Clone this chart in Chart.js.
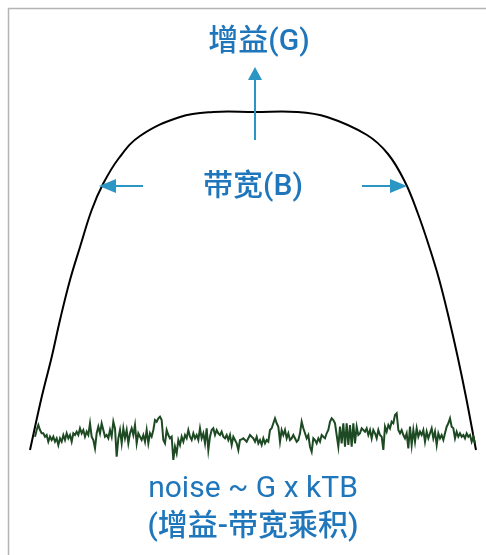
<!DOCTYPE html>
<html><head><meta charset="utf-8">
<script src="https://cdn.jsdelivr.net/npm/chart.js@4/dist/chart.umd.min.js"></script>
<style>html,body{margin:0;padding:0;background:#fff;}#c{display:block;}</style>
</head><body>
<canvas id="c" width="486" height="555"></canvas>
<script>
// Amplifier response curve (frequency, gain in arbitrary units)
const curveFreq = [-1,10.7,20.7,29,39,49,60.7,72,88,109,149,182,224,266,296,336,357,374,386.7,398.3,408.3,418.3,426.7,435,445];
const curveGain = [0,53,93,130,170,203,240,266,292,314,333,338,338,338,333,315,296,268,237,203,170,130,93,53,0];
// Output noise floor, sampled on an even frequency grid
const noiseStart = 4;
const noiseStep = 5/3;
const noiseGain = [
13.3,20,25,20,16.7,16.7,13.3,15,8.3,13.3,10,13.3,8.3,11.7,5,11.7,8.3,15,10,16.7,
11.7,15,8.3,16.7,15,18.3,15,21.7,16.7,20,13.3,18.3,15,26.7,13.3,10,1.7,16.7,23.3,16.7,
26.7,20,13.3,15,11.7,20,13.3,28.3,21.7,-6.7,11.7,20,6.7,21.7,11.7,20,6.7,16.7,21.7,15,
25,6.7,16.7,13.3,10,15,8.3,20,6.7,16.7,13.3,20,30,28.3,31.7,33.3,30,10,6.7,20,
15,11.7,13.3,-10,3.3,-3.3,10,5,13.3,8.3,15,11.7,20,13.3,10,16.7,11.7,15,10,21.7,
11.7,16.7,6.7,21.7,0,13.3,20,21.7,15,20,16.7,15,18.3,13.3,11.7,15,10,15,5,13.3,
10,6.7,0,
10,10.7,11.7,10,8.3,11.7,15,13.3,11.7,8.3,13.3,6.7,10,5,11.7,6.7,10,8.3,20,21.7,
26.7,31.7,26.7,23.3,8.3,20,15,20,11.7,16.7,10,11.7,15,11.7,8.3,10,16.7,28.3,21.7,16.7,
11.7,15,3.3,-1.7,11.7,10,6.7,11.7,8.3,15,13.3,11.7,16.7,20,28.3,31.7,30,26.7,15,3.3,
23.3,6.7,26.7,3.3,26.7,5,25,3.3,26.7,6.7,23.3,15,16.7,21.7,20,18.3,21.7,15,20,11.7,
20,16.7,11.7,20,15,13.3,0,23.3,18.3,25,21.7,28.3,26.7,35,36.7,20,16.7,20,15,11.7,
16.7,1.7,23.3,5,20,8.3,21.7,13.3,18.3,15,20,8.3,18.3,11.7,16.7,21.7,11.7,18.3,5,16.7,
11.7,15,10,16.7,23.3,26.7,31.7,23.3,21.7,11.7,18.3,13.3,16.7,13.3,15,11.7,16.7,13.3,15,8.3,
13.3,6.7
];
// Annotation labels
const labelGain = '增益(G)';
const labelBandwidth = '带宽(B)';
const labelNoise1 = 'noise ~ G x kTB';
const labelNoise2 = '(增益-带宽乘积)';

const curvePts = curveFreq.map((f,i)=>({x:f,y:curveGain[i]}));
const noisePts = noiseGain.map((g,i)=>({x:noiseStart+i*noiseStep,y:g}));

const TEXT_BLUE = '#1f76bb';
const ARROW_BLUE = '#2b95c3';
const FONT = '"Roboto","Noto Sans CJK SC",sans-serif';

const annot = {
  id:'annot',
  beforeDraw(chart){
    const ctx = chart.ctx;
    ctx.save();
    ctx.strokeStyle = '#b4b4b4';
    ctx.lineWidth = 1.5;
    ctx.beginPath();
    ctx.moveTo(8.5, 555); ctx.lineTo(8.5, 8.5); ctx.lineTo(486, 8.5);
    ctx.stroke();
    ctx.restore();
  },
  afterDraw(chart){
    const ctx = chart.ctx, xs = chart.scales.x, ys = chart.scales.y;
    const X = v=>xs.getPixelForValue(v), Y = v=>ys.getPixelForValue(v);
    ctx.save();
    ctx.fillStyle = TEXT_BLUE;
    ctx.textAlign = 'center';
    ctx.textBaseline = 'alphabetic';
    ctx.font = '500 30px ' + FONT;
    ctx.fillText(labelGain, X(228), Y(400));
    ctx.fillText(labelBandwidth, X(222), Y(255));
    ctx.fillText(labelNoise2, X(222), Y(-85));
    ctx.font = '400 30px ' + FONT;
    ctx.fillText(labelNoise1, X(222), Y(-47));
    // arrows
    ctx.strokeStyle = ARROW_BLUE; ctx.fillStyle = ARROW_BLUE; ctx.lineWidth = 2;
    function arrow(x1,y1,x2,y2,len,half){
      const px1=X(x1),py1=Y(y1),px2=X(x2),py2=Y(y2);
      const a=Math.atan2(py2-py1,px2-px1);
      const bx=px2-len*Math.cos(a), by=py2-len*Math.sin(a);
      ctx.beginPath(); ctx.moveTo(px1,py1); ctx.lineTo(bx,by); ctx.stroke();
      ctx.beginPath(); ctx.moveTo(px2,py2);
      ctx.lineTo(bx+half*Math.sin(a), by-half*Math.cos(a));
      ctx.lineTo(bx-half*Math.sin(a), by+half*Math.cos(a));
      ctx.closePath(); ctx.fill();
    }
    arrow(224,310,224,383,13,7);
    arrow(112,264,68,264,17,7);
    arrow(331,264,376,264,17,7);
    ctx.restore();
  }
};

new Chart(document.getElementById('c'), {
  type:'scatter',
  data:{datasets:[
    {data:noisePts, showLine:true, borderColor:'#1d4a22', borderWidth:2, pointRadius:0, tension:0},
    {data:curvePts, showLine:true, borderColor:'#000', borderWidth:2, pointRadius:0, tension:0.4}
  ]},
  options:{
    responsive:false, animation:false, devicePixelRatio:1,
    layout:{padding:0},
    plugins:{legend:{display:false}, tooltip:{enabled:false}},
    scales:{
      x:{type:'linear', display:false, min:-31, max:455},
      y:{type:'linear', display:false, min:-105, max:450}
    }
  },
  plugins:[annot]
});
</script>
</body></html>
